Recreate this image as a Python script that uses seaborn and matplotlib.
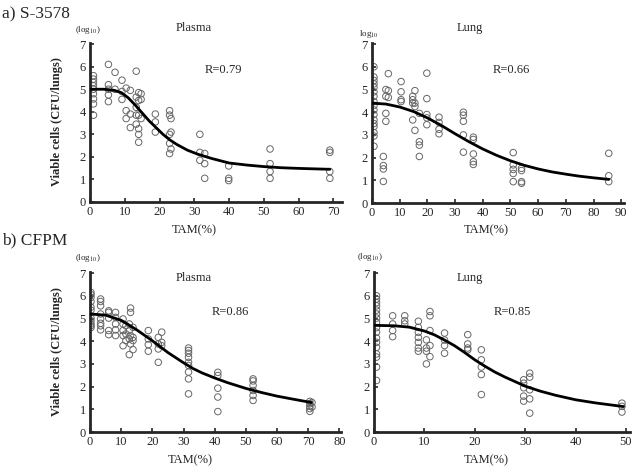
import numpy as np
import pandas as pd
import seaborn as sns
import matplotlib.pyplot as plt

# a) S-3578, Plasma
a_plasma_tam = ([1.0] * 9 + [5.3] * 5 + [7.2] * 2 + [9.2] * 3 + [10.4] * 3 + [11.6] * 3
                + [13.3] * 5 + [14.0] * 6 + [14.7] * 3 + [18.8] * 3 + [22.9] * 5 + [23.3] * 3
                + [31.6] * 3 + [33.0] * 3 + [39.9] * 3 + [51.8] * 4 + [69.0] * 4)
a_plasma_cfu = [5.6, 5.45, 5.3, 5.15, 5.0, 4.8, 4.57, 4.35, 3.85,
                6.1, 5.2, 5.0, 4.75, 4.45,
                5.75, 5.0,
                5.4, 4.9, 4.55,
                5.05, 4.05, 3.7,
                4.95, 3.9, 3.3,
                5.8, 4.65, 4.2, 3.85, 3.45,
                4.85, 4.5, 3.85, 3.25, 3.0, 2.65,
                4.8, 4.55, 3.7,
                3.9, 3.55, 3.1,
                4.05, 3.85, 3.0, 2.6, 2.15,
                3.7, 3.1, 2.35,
                3.0, 2.2, 1.85,
                2.15, 1.7, 1.05,
                1.6, 1.05, 0.95,
                2.35, 1.7, 1.35, 1.05,
                2.3, 2.2, 1.35, 1.05]
a_plasma_fit_x = [0, 4, 7, 9, 11, 13, 15, 17, 19, 21, 23, 25, 28, 31, 35, 40, 45, 50, 55, 60, 69]
a_plasma_fit_y = [5.0, 5.0, 4.95, 4.85, 4.62, 4.3, 3.95, 3.6, 3.3, 3.0, 2.75, 2.55, 2.3,
                  2.12, 1.93, 1.73, 1.64, 1.57, 1.52, 1.49, 1.45]

# a) S-3578, Lung
a_lung_tam = ([0.7] * 17 + [4.1] * 4 + [5.0] * 4 + [5.9] * 3 + [10.5] * 4 + [14.7] * 4
              + [15.5] * 4 + [17.1] * 4 + [19.8] * 5 + [24.2] * 4 + [33.0] * 5 + [36.6] * 5
              + [51.0] * 5 + [54.0] * 4 + [85.5] * 3)
a_lung_cfu = [6.0, 5.55, 5.4, 5.25, 5.1, 4.9, 4.7, 4.47, 4.3, 4.1, 3.9, 3.66, 3.5, 3.37, 3.1, 2.95, 2.5,
              2.05, 1.65, 1.5, 0.95,
              5.0, 4.7, 3.95, 3.6,
              5.7, 4.95, 4.65,
              5.35, 4.9, 4.55, 4.47,
              4.7, 4.55, 4.4, 3.66,
              4.95, 4.4, 4.25, 3.2,
              3.95, 2.7, 2.55, 2.05,
              5.72, 4.6, 3.9, 3.75, 3.45,
              3.78, 3.55, 3.25, 3.05,
              4.0, 3.87, 3.6, 3.0, 2.24,
              2.9, 2.8, 2.16, 1.82, 1.7,
              2.22, 1.68, 1.48, 1.3, 0.94,
              1.53, 1.43, 0.94, 0.87,
              2.19, 1.2, 0.94]
a_lung_fit_x = [0, 5, 10, 15, 20, 25, 30, 35, 40, 45, 50, 55, 60, 65, 70, 75, 80, 85.5]
a_lung_fit_y = [4.4, 4.36, 4.23, 4.03, 3.75, 3.42, 3.05, 2.7, 2.38, 2.1, 1.86, 1.66, 1.5,
                1.37, 1.27, 1.18, 1.11, 1.04]

# b) CFPM, Plasma
b_plasma_tam = ([0.3] * 11 + [3.4] * 8 + [6.0] * 5 + [8.2] * 5 + [10.6] * 5 + [11.5] * 3
                + [12.6] * 4 + [13.0] * 4 + [13.8] * 4 + [18.7] * 4 + [21.9] * 4 + [23.0] * 3
                + [31.6] * 9 + [41.0] * 5 + [52.3] * 6 + [70.5] * 5 + [71.2] * 2)
b_plasma_cfu = [6.15, 6.05, 5.93, 5.75, 5.5, 5.37, 5.02, 4.9, 4.76, 4.68, 4.6,
                5.86, 5.75, 5.56, 5.2, 4.98, 4.79, 4.68, 4.5,
                5.34, 5.27, 5.02, 4.47, 4.29,
                5.27, 5.05, 4.76, 4.5, 4.25,
                4.98, 4.76, 4.47, 4.25, 3.8,
                4.68, 4.32, 4.03,
                4.76, 4.47, 4.1, 3.41,
                5.46, 5.27, 4.25, 3.88,
                4.61, 4.17, 4.03, 3.63,
                4.47, 4.1, 3.85, 3.56,
                4.17, 3.88, 3.66, 3.07,
                4.4, 3.95, 3.8,
                3.7, 3.59, 3.47, 3.29, 3.07, 2.93, 2.64, 2.34, 1.68,
                2.63, 2.49, 1.93, 1.54, 0.9,
                2.34, 2.25, 2.05, 1.83, 1.61, 1.39,
                1.35, 1.25, 1.13, 1.03, 0.91,
                1.3, 1.1]
b_plasma_fit_x = [0, 5, 10, 15, 20, 25, 30, 33, 36, 40, 44, 50, 55, 60, 65, 71]
b_plasma_fit_y = [5.2, 5.15, 4.92, 4.5, 4.02, 3.5, 3.05, 2.8, 2.6, 2.38, 2.18, 1.92,
                  1.74, 1.58, 1.45, 1.3]

# b) CFPM, Lung
b_lung_tam = ([0.5] * 17 + [3.7] * 4 + [6.1] * 3 + [8.8] * 7 + [10.4] * 4 + [11.1] * 5
              + [14.0] * 4 + [18.6] * 4 + [21.3] * 5 + [29.7] * 5 + [30.9] * 5 + [49.2] * 3)
b_lung_cfu = [6.0, 5.86, 5.7, 5.56, 5.37, 5.2, 5.02, 4.83, 4.6, 4.4, 4.14, 3.95, 3.73, 3.44, 3.3, 2.86, 2.27,
              5.12, 4.76, 4.47, 4.2,
              5.12, 4.9, 4.76,
              4.88, 4.61, 4.39, 4.17, 3.95, 3.7, 3.56,
              4.06, 3.7, 3.56, 3.0,
              5.31, 5.12, 4.47, 3.81, 3.32,
              4.36, 4.05, 3.81, 3.47,
              4.29, 3.88, 3.7, 3.62,
              3.62, 3.18, 2.86, 2.53, 1.65,
              2.3, 2.15, 1.95, 1.58, 1.36,
              2.59, 2.42, 1.86, 1.46, 0.83,
              1.27, 1.13, 0.88]
b_lung_fit_x = [0, 4, 7, 10, 12, 14, 16, 18, 20, 22, 24, 26, 28, 30, 33, 36, 40, 44, 49.5]
b_lung_fit_y = [4.7, 4.68, 4.62, 4.45, 4.28, 4.05, 3.8, 3.5, 3.18, 2.9, 2.64, 2.42, 2.22,
                2.02, 1.8, 1.62, 1.42, 1.28, 1.12]

W, H = 633, 473

sns.set_style("ticks")
plt.rcParams['font.family'] = ['Liberation Serif', 'DejaVu Serif']
plt.rcParams['mathtext.fontset'] = 'stix'

fig = plt.figure(figsize=(W / 100, H / 100), dpi=100)


def box(left, top, right, bottom):
    return [left / W, 1 - bottom / H, (right - left) / W, (bottom - top) / H]


def panel(rect, tam, cfu, fit_x, fit_y, xmax, xticks):
    ax = fig.add_axes(rect)
    df = pd.DataFrame({"TAM": tam, "CFU": cfu})
    sns.scatterplot(data=df, x="TAM", y="CFU", ax=ax, marker="o", s=22,
                    facecolors="none", edgecolor="#666666", linewidth=0.7, zorder=2)
    sns.lineplot(x=fit_x, y=fit_y, ax=ax, color="black", linewidth=2.0,
                 sort=False, estimator=None, zorder=3)
    ax.set_xlim(0, xmax)
    ax.set_ylim(0, 7.05)
    ax.set_xticks(xticks)
    ax.set_yticks(range(0, 8))
    ax.set_xlabel("")
    ax.set_ylabel("")
    for s in ["top", "right"]:
        ax.spines[s].set_visible(False)
    for s in ["left", "bottom"]:
        ax.spines[s].set_linewidth(2.0)
    ax.tick_params(direction="in", length=3, width=1.2, labelsize=9, pad=3)
    return ax


panel(box(90, 43, 342, 202), a_plasma_tam, a_plasma_cfu, a_plasma_fit_x, a_plasma_fit_y,
      72.5, range(0, 80, 10))
panel(box(372, 43, 624, 203), a_lung_tam, a_lung_cfu, a_lung_fit_x, a_lung_fit_y,
      91, range(0, 100, 10))
panel(box(90, 272, 341, 432), b_plasma_tam, b_plasma_cfu, b_plasma_fit_x, b_plasma_fit_y,
      80.5, range(0, 90, 10))
panel(box(374, 272, 630, 432), b_lung_tam, b_lung_cfu, b_lung_fit_x, b_lung_fit_y,
      50.8, range(0, 60, 10))


def txt(x, y, s, **kw):
    fig.text(x / W, 1 - y / H, s, **kw)


txt(2, 14, "a) S-3578", fontsize=12.5, ha="left", va="center")
txt(2, 240, "b) CFPM", fontsize=12.5, ha="left", va="center")

txt(194, 28, "Plasma", fontsize=9, ha="center", va="center")
txt(470, 28, "Lung", fontsize=9, ha="center", va="center")
txt(194, 278, "Plasma", fontsize=9, ha="center", va="center")
txt(470, 278, "Lung", fontsize=9, ha="center", va="center")

txt(223, 70, "R=0.79", fontsize=9, ha="center", va="center")
txt(511, 70, "R=0.66", fontsize=9, ha="center", va="center")
txt(230, 312, "R=0.86", fontsize=9, ha="center", va="center")
txt(512, 312, "R=0.85", fontsize=9, ha="center", va="center")

txt(88, 30, r"(log$_{10}$)", fontsize=6.5, ha="center", va="center")
txt(369, 34, r"log$_{10}$", fontsize=6.5, ha="center", va="center")
txt(88, 258, r"(log$_{10}$)", fontsize=6.5, ha="center", va="center")
txt(370, 257, r"(log$_{10}$)", fontsize=6.5, ha="center", va="center")

txt(194, 230, "TAM(%)", fontsize=9, ha="center", va="center")
txt(486, 230, "TAM(%)", fontsize=9, ha="center", va="center")
txt(190, 460, "TAM(%)", fontsize=9, ha="center", va="center")
txt(486, 460, "TAM(%)", fontsize=9, ha="center", va="center")

txt(57, 122, "Viable cells (CFU/lungs)", fontsize=9, fontweight="bold",
    rotation=90, ha="center", va="center")
txt(57, 352, "Viable cells (CFU/lungs)", fontsize=9, fontweight="bold",
    rotation=90, ha="center", va="center")

fig.savefig("out.png", dpi=100)
